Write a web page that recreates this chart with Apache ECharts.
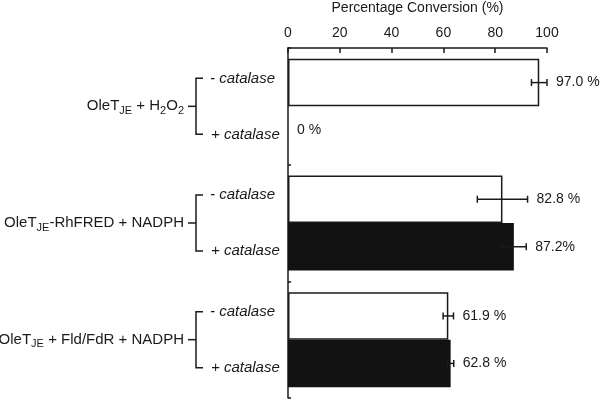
<!DOCTYPE html>
<html><head><meta charset="utf-8">
<script src="https://cdn.jsdelivr.net/npm/echarts@6/dist/echarts.min.js"></script>
<style>html,body{margin:0;padding:0;background:#fff}#c{width:600px;height:400px}</style>
</head><body><div id="c"></div>
<script>
// ---- data ----
const groupLabels = [
  '{n|OleT}{s|JE}{n| + H}{s|2}{n|O}{s|2}',
  '{n|OleT}{s|JE}{n|-RhFRED + NADPH}',
  '{n|OleT}{s|JE}{n| + Fld/FdR + NADPH}'
];
const conditions = ['- catalase', '+ catalase'];
const minusValues = [97.0, 82.8, 61.9];
const plusValues  = [0, 87.2, 62.8];
const minusErr = [3.0, 9.7, 2.0];
const plusErr  = [0, 4.8, 1.2];
const minusLabels = ['97.0 %', '82.8 %', '61.9 %'];
const plusLabels  = ['0 %', '87.2%', '62.8 %'];
const axisTitle = 'Percentage Conversion (%)';
const xMin = 0, xMax = 100, xStep = 20;

// ---- chart ----
const FONT = 'Liberation Sans, Arial, sans-serif';
const INK = '#1a1a1a';
const GAP = 0.186;
const chart = echarts.init(document.getElementById('c'));

function errRender(side, labels) {
  return function (params, api) {
    const v = api.value(0), i = api.value(1), e = api.value(2);
    const band = api.size([0, 1])[1];
    const bw = band * (1 - GAP) / 2;
    const c = api.coord([v, i]);
    const y = c[1] + (side === 0 ? -bw / 2 : bw / 2);
    const x0 = api.coord([v - e, i])[0];
    const x1 = api.coord([v + e, i])[0];
    const st = { stroke: INK, lineWidth: 1.5 };
    const ch = [];
    if (e > 0) {
      ch.push({ type: 'line', shape: { x1: x0, y1: y, x2: x1, y2: y }, style: st });
      ch.push({ type: 'line', shape: { x1: x0, y1: y - 3.5, x2: x0, y2: y + 3.5 }, style: st });
      ch.push({ type: 'line', shape: { x1: x1, y1: y - 3.5, x2: x1, y2: y + 3.5 }, style: st });
    }
    ch.push({ type: 'text', x: x1 + 9, y: y, style: { text: labels[i], fill: INK, font: '14px ' + FONT, textAlign: 'left', textVerticalAlign: 'middle' } });
    return { type: 'group', children: ch };
  };
}

function bracketRender(params, api) {
  const i = api.value(1);
  const c = api.coord([0, i]);
  const ax = c[0], cy = c[1];
  const bx = ax - 92;
  const d = 28;
  const st = { stroke: INK, lineWidth: 1.5, fill: null };
  return { type: 'group', children: [
    { type: 'line', shape: { x1: bx - 8, y1: cy, x2: bx, y2: cy }, style: st },
    { type: 'polyline', shape: { points: [[bx + 7, cy - d], [bx, cy - d], [bx, cy + d], [bx + 7, cy + d]] }, style: st },
    { type: 'text', x: ax - 78, y: cy - d, style: { text: conditions[0], fill: INK, font: 'italic 15px ' + FONT, textAlign: 'left', textVerticalAlign: 'middle' } },
    { type: 'text', x: ax - 77, y: cy + d, style: { text: conditions[1], fill: INK, font: 'italic 15px ' + FONT, textAlign: 'left', textVerticalAlign: 'middle' } }
  ]};
}

chart.setOption({
  animation: false,
  backgroundColor: '#fff',
  grid: { left: 288, right: 53, top: 48, bottom: 2, containLabel: false, outerBoundsMode: 'none' },
  xAxis: {
    type: 'value', position: 'top', min: xMin, max: xMax, interval: xStep,
    name: axisTitle, nameLocation: 'middle', nameGap: 33,
    nameTextStyle: { fontFamily: FONT, fontSize: 14, color: INK },
    axisLine: { show: true, lineStyle: { color: INK, width: 1.5 } },
    axisTick: { show: true, inside: true, length: 5, lineStyle: { color: INK, width: 1.5 } },
    axisLabel: { fontFamily: FONT, fontSize: 14, color: INK, margin: 8 },
    splitLine: { show: false }
  },
  yAxis: {
    type: 'category', inverse: true,
    data: groupLabels,
    axisLine: { show: true, lineStyle: { color: INK, width: 1.5 } },
    axisTick: { show: true, inside: true, length: 3, lineStyle: { color: INK, width: 1.5 } },
    axisLabel: {
      margin: 104, color: INK, fontFamily: FONT, fontSize: 15,
      rich: {
        n: { fontFamily: FONT, fontSize: 15, color: INK },
        s: { fontFamily: FONT, fontSize: 11, color: INK, padding: [9, 0, 0, 0] }
      }
    }
  },
  series: [
    { type: 'bar', name: conditions[0], data: minusValues, barGap: '0%', barCategoryGap: (GAP * 100) + '%',
      itemStyle: { color: '#fff', borderColor: INK, borderWidth: 1.5 } },
    { type: 'bar', name: conditions[1], data: plusValues, barGap: '0%', barCategoryGap: (GAP * 100) + '%',
      itemStyle: { color: '#121212', borderWidth: 0 } },
    { type: 'custom', clip: false, renderItem: errRender(0, minusLabels), encode: { x: 0, y: 1 },
      data: minusValues.map((v, i) => [v, i, minusErr[i]]), z: 5 },
    { type: 'custom', clip: false, renderItem: errRender(1, plusLabels), encode: { x: 0, y: 1 },
      data: plusValues.map((v, i) => [v, i, plusErr[i]]), z: 5 },
    { type: 'custom', clip: false, renderItem: bracketRender, encode: { x: 0, y: 1 },
      data: groupLabels.map((g, i) => [0, i]), z: 5 }
  ]
});
</script>
</body></html>
